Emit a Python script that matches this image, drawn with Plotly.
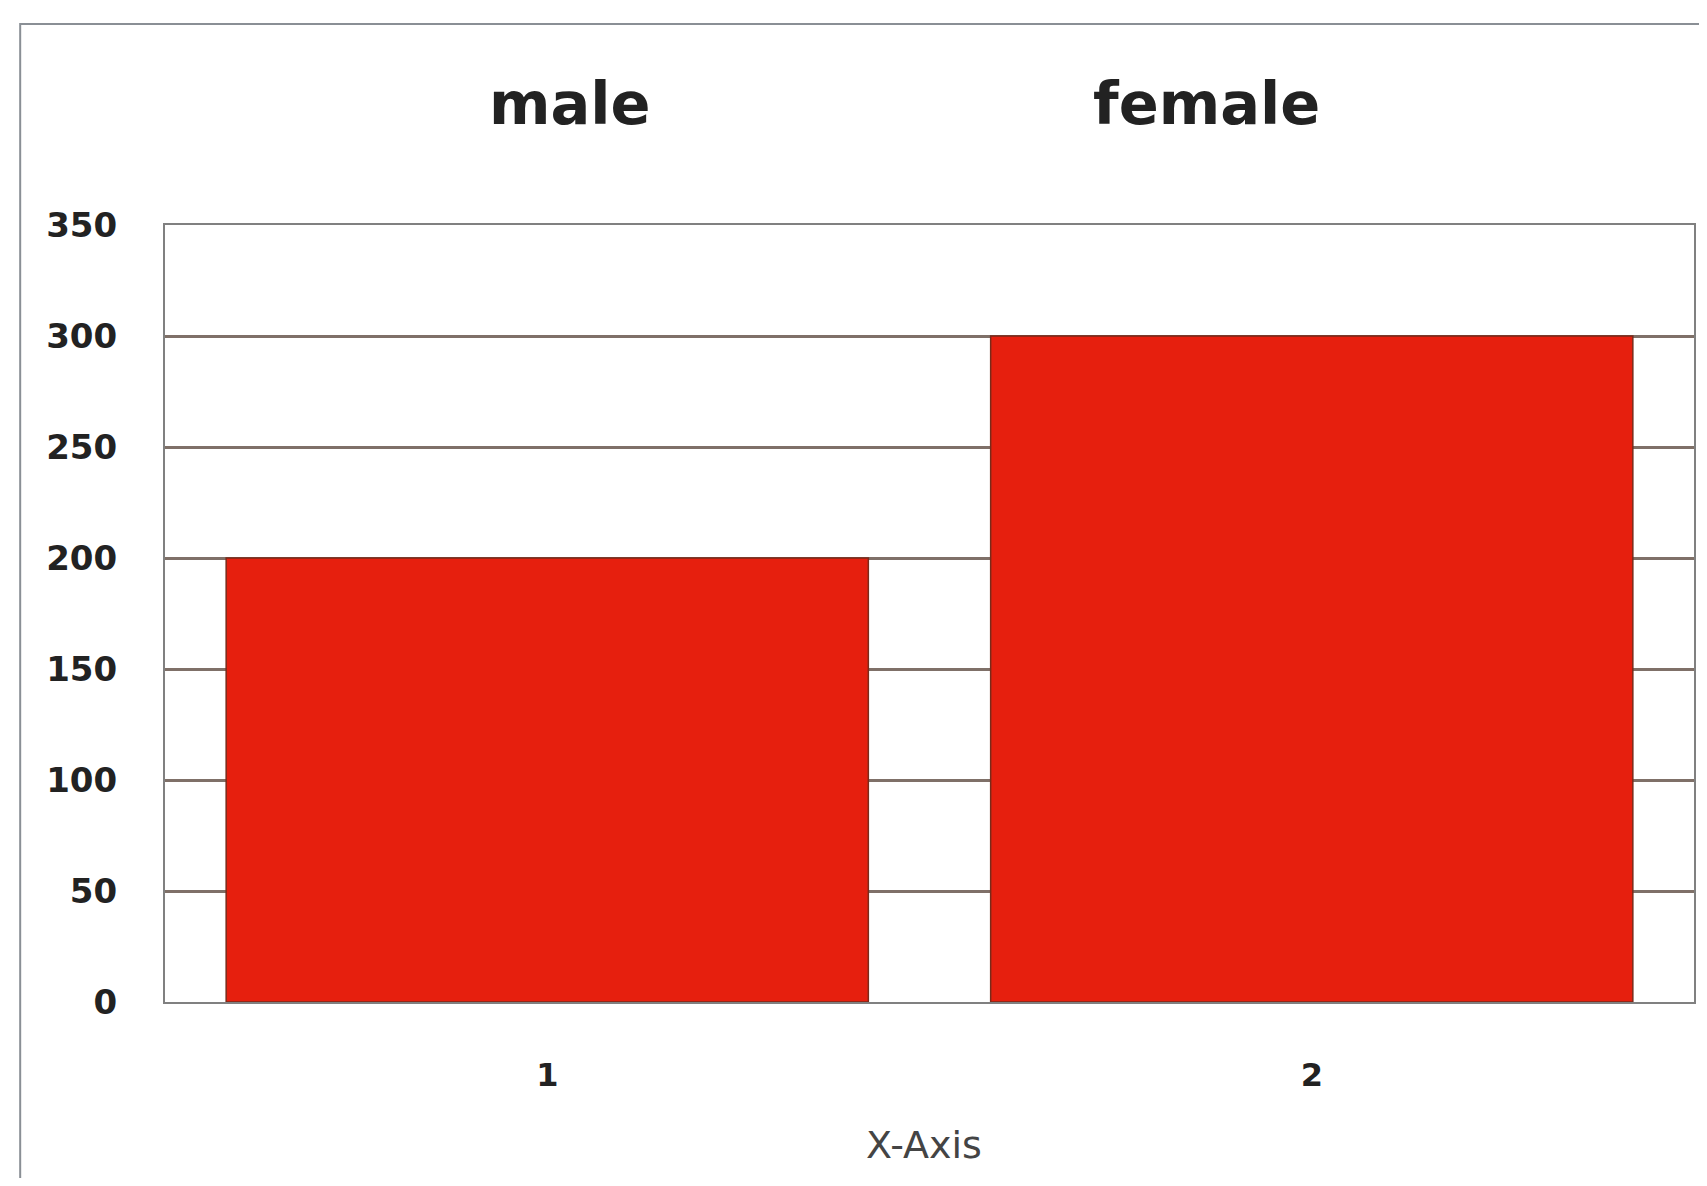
import plotly.graph_objects as go

categories = [1, 2]
values = [200, 300]
tick_labels = ["1", "2"]
group_labels = ["male", "female"]
y_ticks = [0, 50, 100, 150, 200, 250, 300, 350]
x_axis_title = "X-Axis"

OFF = 8  # default page body margin
W, H = 1707 - 2 * OFF, 1186 - 2 * OFF
# target plot box in window pixels
PL, PR, PT, PB = 165, 1696, 225, 1002
L = PL - OFF
T = PT - OFF
R = W - (PR - OFF)
B = H - (PB - OFF)
pw = W - L - R
ph = H - T - B


def px_x(x):
    return (x - PL) / pw


def px_y(y):
    return (PB - y) / ph


fig = go.Figure()
fig.add_trace(go.Bar(
    x=categories, y=values,
    marker=dict(color="#e61f0e", line=dict(color="#7a2a1a", width=1.5)),
    showlegend=False,
))

fig.update_layout(
    width=W, height=H,
    margin=dict(l=L, r=R, t=T, b=B, pad=0),
    paper_bgcolor="#ffffff",
    plot_bgcolor="#ffffff",
    bargap=0.16,
    font=dict(family="DejaVu Sans", color="#222222"),
    xaxis=dict(
        range=[0.5, 2.5],
        tickvals=categories, ticktext=tick_labels,
        tickfont=dict(family="DejaVu Sans", size=32, color="#222222", weight="bold"),
        showgrid=False, zeroline=False,
        showline=True, linecolor="#808080", linewidth=2, mirror=True,
        ticks="", ticklabelstandoff=44,
    ),
    yaxis=dict(
        range=[0, 350],
        tickvals=y_ticks, ticktext=[str(v) for v in y_ticks],
        tickfont=dict(family="DejaVu Sans", size=34, color="#222222", weight="bold"),
        showgrid=True, gridcolor="#7f7068", gridwidth=3,
        zeroline=False,
        showline=True, linecolor="#808080", linewidth=2, mirror=True,
        ticks="", ticklabelstandoff=39,
    ),
)

# group labels above plot
label_px = [571, 1208]
for lbl, px in zip(group_labels, label_px):
    fig.add_annotation(
        text=lbl, xref="paper", yref="paper",
        x=px_x(px), y=px_y(103),
        xanchor="center", yanchor="middle", showarrow=False,
        font=dict(family="DejaVu Sans", size=59, color="#222222", weight="bold"),
    )

# x axis title
fig.add_annotation(
    text=x_axis_title, xref="paper", yref="paper",
    x=px_x(925), y=px_y(1145),
    xanchor="center", yanchor="middle", showarrow=False,
    font=dict(family="DejaVu Sans", size=38, color="#444444"),
)

# outer frame
fig.add_shape(
    type="rect", xref="paper", yref="paper",
    x0=px_x(20), x1=px_x(1707 + 40),
    y0=px_y(1186 + 40), y1=px_y(24),
    line=dict(color="#8a8f95", width=2), fillcolor="rgba(0,0,0,0)",
    layer="below",
)

fig.write_html("out.html")
